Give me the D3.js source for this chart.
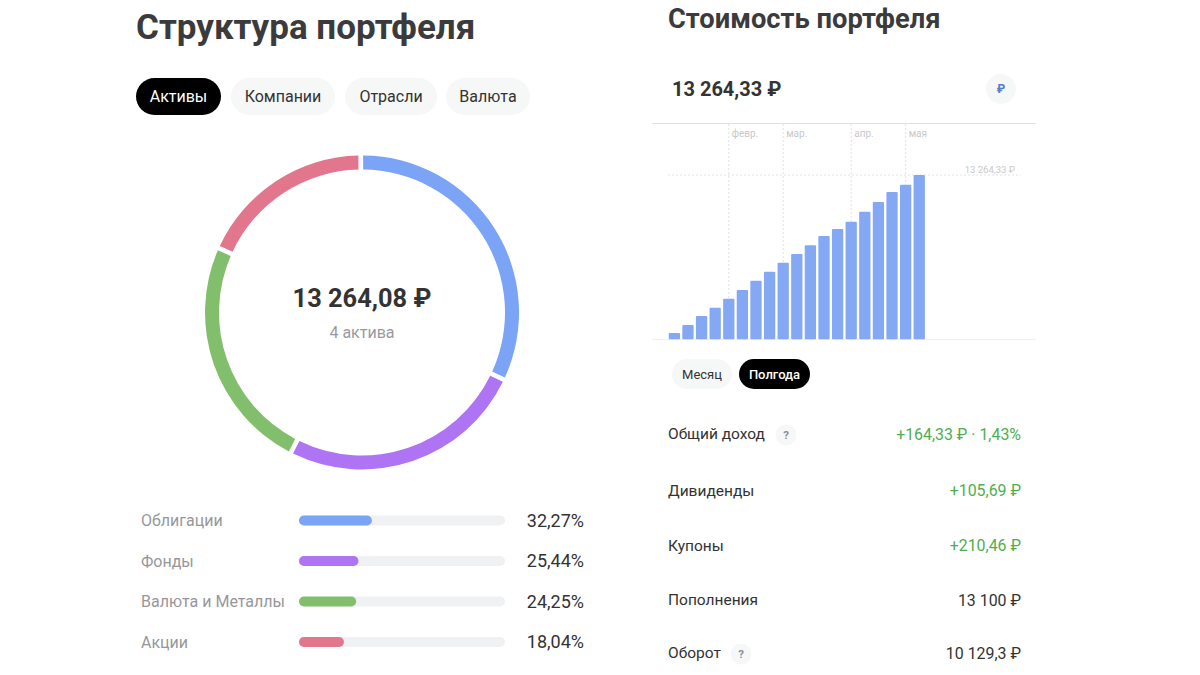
<!DOCTYPE html>
<html><head><meta charset="utf-8">
<script src="https://cdn.jsdelivr.net/npm/d3@7"></script>
<style>html,body{margin:0;padding:0;background:#fff}svg{display:block}text{font-family:Roboto,sans-serif}</style>
</head><body><svg id="c" width="1200" height="675"></svg>
<script>
const assetNames=["Облигации","Фонды","Валюта и Металлы","Акции"];
const assetShares=[32.27,25.44,24.25,18.04];
const assetLabels=["32,27%","25,44%","24,25%","18,04%"];
const assetColors=["#7ba3f6","#af74f4","#82bf6c","#e1768d"];
const tabsLeft=["Активы","Компании","Отрасли","Валюта"];
const barValues=[511,1157,1883,2556,3282,3982,4735,5461,6187,6887,7586,8340,8905,9497,10304,11084,11891,12483,13264.33];
const monthLabels=["февр.","мар.","апр.","мая"];
const monthBarIndex=[4,8,13,17];
const statNames=["Общий доход","Дивиденды","Купоны","Пополнения","Оборот"];
const statValues=["+164,33 ₽ · 1,43%","+105,69 ₽","+210,46 ₽","13 100 ₽","10 129,3 ₽"];
const statGreen=[true,true,true,false,false];
const statHelp=[true,false,false,false,true];
const statY=[434,490.5,545.5,600,653];

const svg=d3.select("#c");
function txt(x,y,s,size,fill,weight,anchor){
  return svg.append("text").attr("x",x).attr("y",y).attr("font-size",size).attr("fill",fill)
    .attr("font-weight",weight||400).attr("text-anchor",anchor||"start").attr("dominant-baseline","central").text(s);
}
function pill(x,y,w,h,fill){
  svg.append("rect").attr("x",x).attr("y",y).attr("width",w).attr("height",h).attr("rx",h/2).attr("fill",fill);
}
// Left
txt(136,27.5,"Структура портфеля",35,"#3b3b3d",700);
const tabX=[136,231,345,446],tabW=[85,104,92,84];
tabsLeft.forEach((t,i)=>{
  pill(tabX[i],78,tabW[i],37,i==0?"#000":"#f6f7f7");
  txt(tabX[i]+tabW[i]/2,96.5,t,16,i==0?"#fff":"#333",400,"middle");
});
// Donut
const pie=d3.pie().sort(null).padAngle(0.022).startAngle(-0.008).endAngle(2*Math.PI-0.008)(assetShares);
const arc=d3.arc().innerRadius(143).outerRadius(157);
const g=svg.append("g").attr("transform","translate(362,312.5)");
g.selectAll("path").data(pie).join("path").attr("d",arc).attr("fill",(d,i)=>assetColors[i]);
txt(362,298,"13 264,08 ₽",25.4,"#333",700,"middle");
txt(362,332,"4 актива",16,"#9a9a9e",400,"middle");
// Progress list
const prog=d3.scaleLinear().domain([0,100]).range([9.5,206]);
const rowY=[520.5,561,601.5,642];
assetNames.forEach((n,i)=>{
  txt(141,rowY[i],n,16,"#97979b");
  svg.append("rect").attr("x",299).attr("y",rowY[i]-5).attr("width",206).attr("height",10).attr("rx",5).attr("fill","#f0f1f3");
  svg.append("rect").attr("x",299).attr("y",rowY[i]-5).attr("width",prog(assetShares[i])).attr("height",10).attr("rx",5).attr("fill",assetColors[i]);
  txt(584,rowY[i]-0.5,assetLabels[i],18,"#333",400,"end");
});
// Right
txt(668,18.5,"Стоимость портфеля",27.3,"#3b3b3d",700);
txt(672,88.5,"13 264,33 ₽",20,"#333",700);
svg.append("circle").attr("cx",1001).attr("cy",89).attr("r",15).attr("fill","#f6f7f7");
txt(1001,89,"₽",12,"#4f80d8",700,"middle");
svg.append("line").attr("x1",652).attr("x2",1036).attr("y1",123.5).attr("y2",123.5).attr("stroke","#e0e0e0").attr("stroke-width",1);
svg.append("line").attr("x1",652).attr("x2",1036).attr("y1",339.5).attr("y2",339.5).attr("stroke","#efefef").attr("stroke-width",1);
const x=d3.scaleBand().domain(d3.range(barValues.length)).range([667.9,925.7]).paddingInner(0.17).paddingOuter(0.06);
const y=d3.scaleLinear().domain([0,13264.33]).range([339.3,175]);
// guides
const gl=svg.append("g").attr("stroke","#e2e2e2").attr("stroke-width",1).attr("stroke-dasharray","2,2");
monthBarIndex.forEach(i=>{
  const cx=x(i)+x.bandwidth()/2;
  gl.append("line").attr("x1",cx).attr("x2",cx).attr("y1",124).attr("y2",y(barValues[i]));
});
gl.append("line").attr("x1",668).attr("x2",1021).attr("y1",y(13264.33)).attr("y2",y(13264.33));
monthLabels.forEach((m,i)=>{
  const cx=x(monthBarIndex[i])+x.bandwidth()/2;
  txt(cx+3,133,m,10,"#c8c8ca");
});
txt(1015,169,"13 264,33 ₽",9.5,"#c8c8ca",400,"end");
svg.append("g").selectAll("rect").data(barValues).join("rect")
  .attr("x",(d,i)=>x(i)).attr("width",x.bandwidth()).attr("y",d=>y(d)).attr("height",d=>y(0)-y(d))
  .attr("rx",1).attr("fill","#85a8f5");
pill(672,359,60,30,"#f6f7f7");
txt(702,374,"Месяц",13,"#333",400,"middle");
pill(739,359,71,30,"#000");
txt(774.5,374,"Полгода",13,"#fff",500,"middle");
statNames.forEach((n,i)=>{
  txt(668,statY[i],n,15.5,"#333");
  txt(1021,statY[i],statValues[i],15.9,statGreen[i]?"#4fae4f":"#333",400,"end");
  if(statHelp[i]){
    const cx=i==0?786:741, cy=statY[i]+1;
    svg.append("circle").attr("cx",cx).attr("cy",cy).attr("r",10.5).attr("fill","#f6f7f7");
    txt(cx,cy,"?",11.5,"#8a8f98",700,"middle");
  }
});
</script></body></html>
